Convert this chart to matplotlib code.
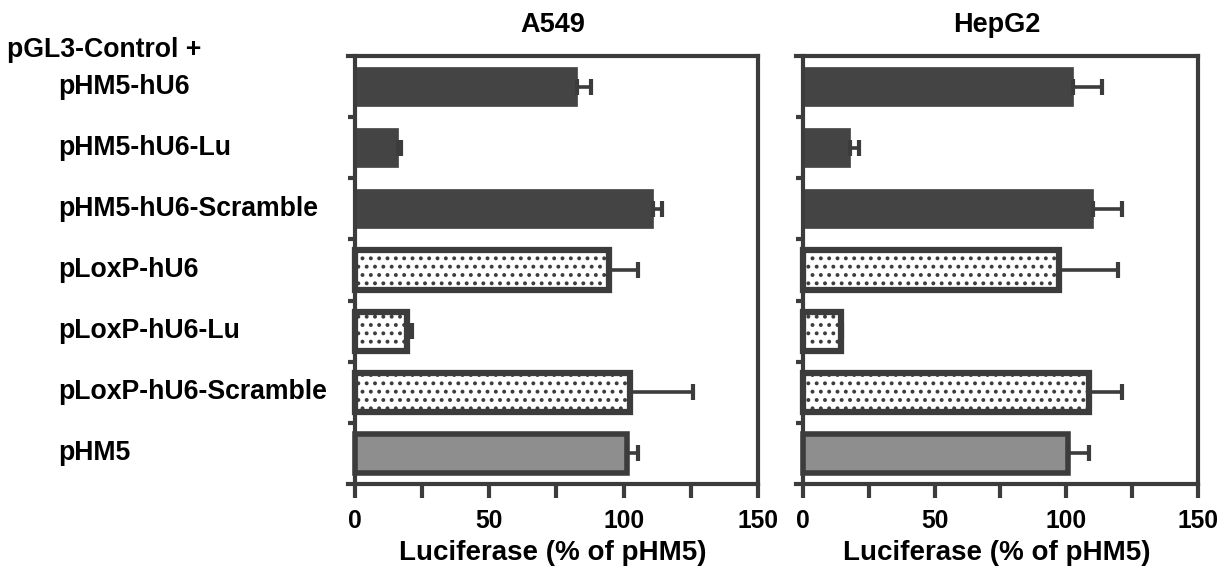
import matplotlib
matplotlib.use("Agg")
import matplotlib.pyplot as plt
import numpy as np
from matplotlib.transforms import blended_transform_factory

# ---------------------------------------------------------------------------
# Data
# ---------------------------------------------------------------------------
constructs = ["pHM5-hU6", "pHM5-hU6-Lu", "pHM5-hU6-Scramble", "pLoxP-hU6",
              "pLoxP-hU6-Lu", "pLoxP-hU6-Scramble", "pHM5"]
a549_mean = [82.5, 16.0, 110.9, 94.7, 19.2, 102.5, 101.4]
a549_err = [5.5, 1.0, 3.4, 10.6, 2.0, 23.3, 4.0]
hepg2_mean = [102.5, 17.8, 110.1, 97.1, 14.3, 108.8, 100.7]
hepg2_err = [11.1, 3.5, 11.1, 22.5, 0.5, 12.4, 7.9]
panels = ["A549", "HepG2"]
xticks_major = [0, 50, 100, 150]
xticks_minor = [25, 75, 125]

# bar styles: 0 = solid dark, 1 = dotted, 2 = grey
styles = [0, 0, 0, 1, 1, 1, 2]

plt.rcParams["font.family"] = ["Liberation Sans", "DejaVu Sans"]
plt.rcParams["font.weight"] = "bold"
plt.rcParams["hatch.linewidth"] = 1.6

DARK = "#3c3c3c"

fig = plt.figure(figsize=(12.28, 5.75), dpi=100)
W, H = 1228, 575
ax_boxes = [(348, 56, 758, 484), (796, 56, 1198, 484)]

for (x0, y0, x1, y1), title, means, errs in zip(
        ax_boxes, panels, [a549_mean, hepg2_mean], [a549_err, hepg2_err]):
    ax = fig.add_axes([x0 / W, 1 - y1 / H, (x1 - x0) / W, (y1 - y0) / H])
    y = np.arange(len(constructs))
    for yi, m, s in zip(y, means, styles):
        if s == 0:
            ax.barh(yi, m, height=0.64, color="#444444",
                    edgecolor="#444444", linewidth=0.5, zorder=2)
        elif s == 1:
            ax.barh(yi, m, height=0.64, color="white", edgecolor=DARK,
                    hatch="..", linewidth=4.5, zorder=2)
        else:
            ax.barh(yi, m, height=0.64, color="#8e8e8e", edgecolor=DARK,
                    linewidth=4.0, zorder=2)
    ax.errorbar(means, y, xerr=[np.zeros(len(errs)), errs], fmt="none",
                ecolor=DARK, elinewidth=2.6, capsize=6, capthick=3.0,
                zorder=3)

    ax.set_xlim(-2.6, 150)
    ax.set_ylim(6.5, -0.5)

    for sp in ax.spines.values():
        sp.set_linewidth(3.0)
        sp.set_color(DARK)
    ax.spines["left"].set_position(("data", 0))

    ax.set_yticks([])
    ax.set_yticks(np.arange(0.5, len(constructs) - 1, 1.0), minor=True)
    ax.tick_params(axis="y", which="minor", direction="out", length=5,
                   width=3.0, color=DARK)

    ax.set_xticks(xticks_major)
    ax.set_xticks(xticks_minor, minor=True)
    ax.tick_params(axis="x", which="both", direction="out", length=10,
                   width=3.0, color=DARK, pad=8)
    ax.set_xticklabels([str(v) for v in xticks_major], fontweight="bold",
                       fontsize=17.7)
    ax.set_xlabel("Luciferase (% of pHM5)", fontsize=20,
                  fontweight="bold", labelpad=5)
    ax.set_title(title, fontsize=19.5, fontweight="bold", pad=17)

    if title == "A549":
        trans = blended_transform_factory(fig.transFigure, ax.transData)
        for yi, name in zip(y, constructs):
            ax.text(58 / W, yi, name, transform=trans, ha="left",
                    va="center", fontsize=19.2, fontweight="bold")

fig.text(7 / W, 1 - 50 / H, "pGL3-Control +", ha="left", va="center",
         fontsize=19.2, fontweight="bold")

fig.savefig("out.png", dpi=100, facecolor="white")
